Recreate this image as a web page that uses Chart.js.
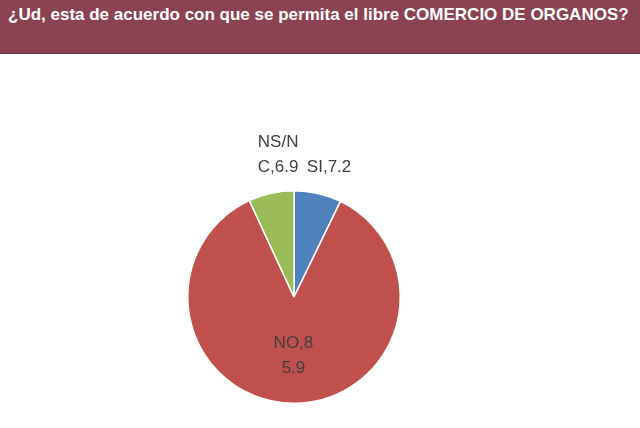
<!DOCTYPE html><html><head><script src="https://cdn.jsdelivr.net/npm/chart.js@4"></script>
<style>body{margin:0;width:640px;height:428px;overflow:hidden;background:#fff}
#h{position:absolute;left:0;top:0;width:640px;height:53px;background:#8B4352;border-bottom:1px solid #6d3340}
#t{position:absolute;left:8px;top:5px;color:#fff;font:bold 17px "Liberation Sans",Arial,sans-serif;white-space:nowrap}
#c{position:absolute;left:0;top:0}</style></head><body>
<div id="h"><div id="t">¿Ud, esta de acuerdo con que se permita el libre COMERCIO DE ORGANOS?</div></div>
<canvas id="c" width="640" height="428"></canvas>
<script>
const categories=["SI","NO","NS/NC"];
const values=[7.2,85.9,6.9];
const colors=["#4F81BD","#C0504D","#9BBB59"];
const labelLines=[["SI,7.2"],["NO,8","5.9"],["NS/N","C,6.9"]];
const lbl={id:'lbl',afterDatasetsDraw(ch){const ctx=ch.ctx;const m=ch.getDatasetMeta(0);
ctx.save();ctx.font='17px "Liberation Sans",Arial,sans-serif';ctx.fillStyle='#404040';ctx.textAlign='center';ctx.textBaseline='middle';
m.data.forEach((a,i)=>{const mid=(a.startAngle+a.endAngle)/2;let r,dx=0;
if(i==1){r=a.outerRadius*0.55;}else{r=a.outerRadius*1.22;}
let x=a.x+Math.cos(mid)*r,y=a.y+Math.sin(mid)*r;
if(i==0){x+=6;y+=-3;} if(i==2){x+=12;y-=16;}
const L=labelLines[i];L.forEach((s,k)=>ctx.fillText(s,x,y+(k-(L.length-1)/2)*25));});ctx.restore();}};
new Chart(document.getElementById('c'),{type:'pie',data:{labels:categories,datasets:[{data:values,backgroundColor:colors,borderColor:'#fff',borderWidth:1.5}]},
options:{responsive:false,animation:false,layout:{padding:{top:190,bottom:24,left:186,right:238}},plugins:{legend:{display:false},tooltip:{enabled:false}}},plugins:[lbl]});
</script></body></html>
